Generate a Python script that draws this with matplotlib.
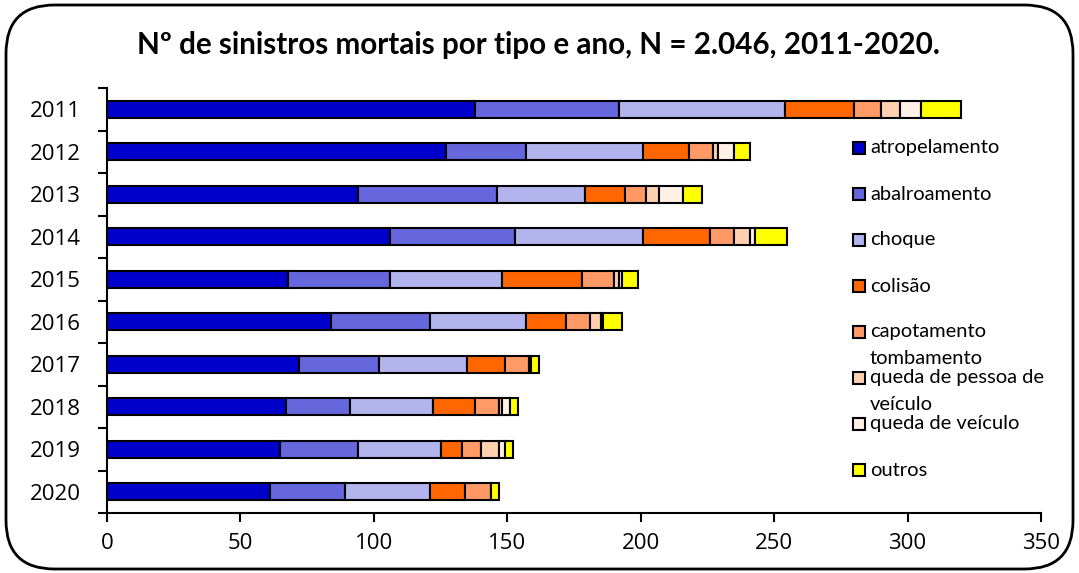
import numpy as np
import matplotlib
matplotlib.use('Agg')
import matplotlib.pyplot as plt
from matplotlib.patches import FancyBboxPatch, Rectangle

# dados
anos = ['2011', '2012', '2013', '2014', '2015', '2016', '2017', '2018', '2019', '2020']
tipos = ['atropelamento', 'abalroamento', 'choque', 'colisão', 'capotamento\ntombamento',
         'queda de pessoa de\nveículo', 'queda de veículo', 'outros']
atropelamento = [138, 127, 94, 106, 68, 84, 72, 67, 65, 61]
abalroamento = [54, 30, 52, 47, 38, 37, 30, 24, 29, 28]
choque = [62, 44, 33, 48, 42, 36, 33, 31, 31, 32]
colisao = [26, 17, 15, 25, 30, 15, 14, 16, 8, 13]
capotamento = [10, 9, 8, 9, 12, 9, 9, 9, 7, 10]
queda_pessoa = [7, 2, 5, 6, 2, 4, 1, 1, 7, 0]
queda_veiculo = [8, 6, 9, 2, 1, 1, 0, 3, 2, 0]
outros = [15, 6, 7, 12, 6, 7, 3, 3, 3, 3]

series = [atropelamento, abalroamento, choque, colisao, capotamento,
          queda_pessoa, queda_veiculo, outros]
cores = ['#0000CC', '#6666DD', '#B3B3EE', '#FF6600', '#FF9966',
         '#FFD0B0', '#FFF0E6', '#FFFF00']

W, H = 1079, 573
fig = plt.figure(figsize=(W / 100, H / 100), dpi=100)
ax = fig.add_axes([107 / W, 1 - 513 / H, (1041 - 107) / W, (513 - 88) / H])

y = np.arange(len(anos))
esquerda = np.zeros(len(anos))
for vals, cor in zip(series, cores):
    ax.barh(y, vals, left=esquerda, height=0.4, color=cor, edgecolor='black', linewidth=1.5)
    esquerda += np.array(vals)

ax.set_xlim(0, 350)
ax.set_ylim(len(anos) - 0.5, -0.5)
ax.set_xticks(range(0, 351, 50))
ax.set_yticks(y)
ax.set_yticklabels(anos)
ax.set_yticks(np.arange(-0.5, len(anos), 1), minor=True)
ax.tick_params(axis='y', which='major', length=0, pad=19, labelsize=16)
ax.tick_params(axis='y', which='minor', length=6.5, width=1.5, direction='out')
ax.tick_params(axis='x', length=6.5, width=1.5, direction='out', labelsize=16, pad=8)
for lab in ax.get_xticklabels() + ax.get_yticklabels():
    lab.set_fontfamily('Open Sans')
ax.spines['top'].set_visible(False)
ax.spines['right'].set_visible(False)
ax.spines['left'].set_linewidth(1.5)
ax.spines['bottom'].set_linewidth(1.5)

fig.text(538 / W, 1 - 45 / H, 'Nº de sinistros mortais por tipo e ano, N = 2.046, 2011-2020.',
         ha='center', va='center', fontsize=21.3, fontweight='bold', family='Lato')

# legenda manual (marcador alinhado com a primeira linha do texto)
for i, (nome, cor) in enumerate(zip(tipos, cores)):
    yy = 148 + i * 46
    fig.add_artist(Rectangle((853 / W, 1 - (yy + 6) / H), 12 / W, 12 / H,
                             facecolor=cor, edgecolor='black', linewidth=1.5,
                             transform=fig.transFigure))
    for k, linha in enumerate(nome.split('\n')):
        fig.text(870 / W, 1 - (yy + k * 26) / H, linha, ha='left', va='center',
                 fontsize=14.5, family='Lato')

# moldura arredondada
fig.add_artist(FancyBboxPatch((6 / W, 4 / H), (W - 12) / W, (H - 9) / H,
                              boxstyle='round,pad=0,rounding_size=0.045',
                              facecolor='none', edgecolor='black', linewidth=2,
                              transform=fig.transFigure, mutation_aspect=W / H))

fig.savefig('out.png', dpi=100)
